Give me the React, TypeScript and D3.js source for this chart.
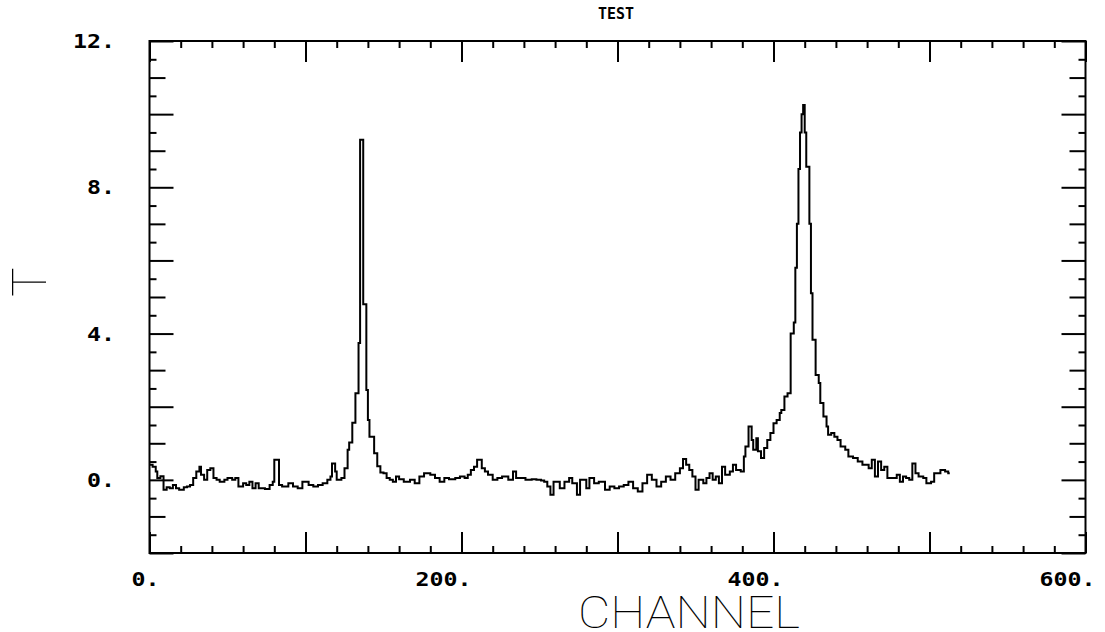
import React, { useRef, useEffect } from 'react';
import * as d3 from 'd3';

// Spectrum: channel number and the T value from that channel on
const channel = [
  0, 2, 4, 5, 7, 9, 11, 13, 15, 17, 19, 22, 24, 26, 28, 30, 32, 33, 35, 37,
  39, 41, 43, 45, 48, 50, 53, 55, 57, 60, 62, 64, 66, 68, 70, 74, 77, 79, 80, 83,
  85, 89, 92, 95, 98, 102, 105, 108, 111, 114, 116, 117, 119, 120, 123, 125, 127, 128, 130, 132,
  134, 135, 137, 139, 140, 141, 144, 146, 148, 150, 152, 154, 156, 158, 160, 163, 167, 170, 173, 176,
  180, 183, 186, 189, 192, 196, 199, 202, 204, 206, 208, 210, 213, 215, 217, 220, 223, 226, 230, 233,
  235, 238, 241, 245, 248, 251, 253, 255, 257, 259, 263, 266, 269, 271, 274, 276, 280, 282, 285, 288,
  292, 295, 298, 301, 304, 307, 310, 313, 316, 319, 322, 325, 328, 331, 334, 337, 340, 342, 344, 346,
  348, 350, 352, 355, 357, 359, 361, 363, 365, 367, 369, 372, 374, 376, 379, 381, 382, 384, 386, 387,
  389, 390, 392, 394, 396, 398, 400, 402, 404, 405, 407, 409, 411, 413, 414, 415, 416, 417, 418, 419,
  420, 421, 423, 424, 425, 427, 429, 430, 432, 434, 435, 437, 439, 441, 443, 446, 448, 451, 454, 457,
  461, 463, 465, 467, 469, 471, 473, 477, 479, 481, 483, 485, 487, 489, 491, 493, 496, 498, 501, 503,
  507, 510, 512, 513,
];

const counts = [
  0.41, 0.36, 0.23, 0.05, 0.1, -0.27, -0.2, -0.23, -0.14, -0.23, -0.27, -0.2, -0.18, -0.14, 0.05, 0.23, 0.36, 0.14, 0.0, 0.27,
  0.32, 0.05, 0.0, -0.05, 0.0, 0.05, 0.0, 0.05, -0.18, -0.09, -0.14, -0.05, -0.23, -0.09, -0.23, -0.25, -0.14, -0.05, 0.55, -0.14,
  -0.18, -0.09, -0.18, -0.23, -0.05, -0.14, -0.18, -0.14, -0.09, 0.0, 0.09, 0.45, 0.23, 0.0, 0.05, 0.32, 0.82, 1.02, 1.56, 2.37,
  3.74, 9.3, 4.8, 2.46, 1.64, 1.18, 0.73, 0.37, 0.2, 0.18, 0.05, 0.0, -0.05, 0.09, 0.02, -0.05, 0.0, -0.09, 0.09, 0.18,
  0.14, 0.05, -0.05, 0.05, 0.02, 0.05, 0.09, 0.05, 0.14, 0.27, 0.36, 0.55, 0.32, 0.23, 0.14, 0.0, 0.05, 0.09, 0.0, 0.23,
  0.05, 0.05, 0.0, 0.02, 0.0, -0.02, -0.05, -0.18, -0.41, -0.05, -0.23, -0.05, 0.05, -0.09, -0.41, 0.0, -0.23, 0.05, -0.09, -0.05,
  -0.27, -0.18, -0.23, -0.18, -0.14, -0.05, -0.23, -0.32, -0.09, 0.14, 0.0, -0.18, -0.05, 0.09, 0.0, 0.18, 0.32, 0.57, 0.41, 0.27,
  0.09, -0.27, 0.0, -0.09, 0.05, 0.18, 0.0, 0.09, -0.09, 0.36, 0.14, 0.23, 0.41, 0.27, 0.23, 0.64, 0.91, 1.46, 1.09, 0.82,
  1.14, 0.78, 0.6, 0.87, 1.09, 1.28, 1.55, 1.64, 1.83, 1.91, 2.28, 2.37, 4.0, 4.3, 5.8, 7.0, 8.5, 9.5, 10.0, 10.25,
  9.5, 8.56, 7.0, 5.1, 3.83, 2.87, 2.65, 2.1, 1.73, 1.46, 1.23, 1.28, 1.18, 1.09, 0.91, 0.82, 0.64, 0.6, 0.5, 0.41,
  0.32, 0.55, 0.09, 0.5, 0.27, 0.36, 0.05, 0.05, 0.14, -0.05, 0.09, 0.05, 0.0, 0.45, 0.18, 0.09, 0.05, -0.09, -0.05, 0.18,
  0.27, 0.23, 0.18, 0.18,
];

const xDomain = [0, 600];
const yDomain = [-2, 12];
const xLabelValues = [0, 200, 400, 600];
const yLabelValues = [0, 4, 8, 12];

const labelFont = '"DejaVu Sans Mono", "Liberation Mono", monospace';
const strokeFont = 'Roboto, Inter, Lato, "Noto Sans", sans-serif';

function App() {
  const svgRef = useRef<SVGSVGElement>(null);

  useEffect(() => {
    const width = 1105;
    const height = 632;
    const margin = { top: 41, right: 19.5, bottom: 79, left: 149.5 };

    const svg = d3.select(svgRef.current);
    svg.selectAll('*').remove();
    svg.attr('width', width).attr('height', height);

    const x = d3.scaleLinear().domain(xDomain).range([margin.left, width - margin.right]);
    const y = d3.scaleLinear().domain(yDomain).range([height - margin.bottom, margin.top]);

    const x0 = x.range()[0], x1 = x.range()[1];
    const yB = y.range()[0], yT = y.range()[1];

    // ticks: majors every 100, minors every 20 on x; 0.5 steps on y with 3 lengths
    const xMajor = d3.range(xDomain[0], xDomain[1] + 1, 100);
    const xMinor = d3.range(xDomain[0], xDomain[1] + 1, 20).filter(v => v % 100 !== 0);
    const yAll = d3.range(yDomain[0], yDomain[1] + 0.01, 0.5);
    const yHalf = yAll.filter(v => v % 1 !== 0);
    const yOdd = yAll.filter(v => v % 1 === 0 && Math.abs(v) % 2 === 1);
    const yEven = yAll.filter(v => v % 1 === 0 && Math.abs(v) % 2 === 0);

    const addAxis = (axis: any, tx: number, ty: number) => {
      const g = svg.append('g').attr('transform', `translate(${tx},${ty})`).call(axis);
      g.select('.domain').remove();
      g.selectAll('text').remove();
      g.selectAll('line').attr('stroke', '#000').attr('stroke-width', 2);
    };

    const xSets: [number[], number][] = [[xMinor, 7], [xMajor, 21]];
    xSets.forEach(([vals, len]) => {
      addAxis(d3.axisTop(x).tickValues(vals).tickSize(len).tickFormat(() => ''), 0, yB);
      addAxis(d3.axisBottom(x).tickValues(vals).tickSize(len).tickFormat(() => ''), 0, yT);
    });

    const ySets: [number[], number][] = [[yHalf, 7], [yOdd, 16], [yEven, 24]];
    ySets.forEach(([vals, len]) => {
      addAxis(d3.axisRight(y).tickValues(vals).tickSize(len).tickFormat(() => ''), x0, 0);
      addAxis(d3.axisLeft(y).tickValues(vals).tickSize(len).tickFormat(() => ''), x1, 0);
    });

    // frame
    svg.append('rect')
      .attr('x', x0)
      .attr('y', yT)
      .attr('width', x1 - x0)
      .attr('height', yB - yT)
      .attr('fill', 'none')
      .attr('stroke', '#000')
      .attr('stroke-width', 2);

    // spectrum as a step line
    const pts = channel.map((c, i) => [c, counts[i]] as [number, number]);
    const line = d3.line<[number, number]>()
      .x(d => x(d[0]))
      .y(d => y(d[1]))
      .curve(d3.curveStepAfter);

    svg.append('path')
      .datum(pts)
      .attr('fill', 'none')
      .attr('stroke', '#000')
      .attr('stroke-width', 2)
      .attr('stroke-linejoin', 'miter')
      .attr('d', line);

    // tick labels
    svg.selectAll('.xlab')
      .data(xLabelValues)
      .enter()
      .append('text')
      .attr('class', 'xlab')
      .attr('x', d => x(d) + 10)
      .attr('y', yB + 33)
      .attr('text-anchor', 'end')
      .attr('font-family', labelFont)
      .attr('font-weight', 'bold')
      .attr('font-size', 20)
      .attr('textLength', d => `${d}.`.length * 14)
      .attr('lengthAdjust', 'spacingAndGlyphs')
      .text(d => `${d}.`);

    svg.selectAll('.ylab')
      .data(yLabelValues)
      .enter()
      .append('text')
      .attr('class', 'ylab')
      .attr('x', 115)
      .attr('y', d => y(d) + 7)
      .attr('text-anchor', 'end')
      .attr('font-family', labelFont)
      .attr('font-weight', 'bold')
      .attr('font-size', 20)
      .attr('textLength', d => `${d}.`.length * 14)
      .attr('lengthAdjust', 'spacingAndGlyphs')
      .text(d => `${d}.`);

    // title
    svg.append('text')
      .attr('x', 616)
      .attr('y', 19)
      .attr('text-anchor', 'middle')
      .attr('font-family', labelFont)
      .attr('font-weight', 'bold')
      .attr('font-size', 16)
      .attr('textLength', 36)
      .attr('lengthAdjust', 'spacingAndGlyphs')
      .text('TEST');

    // axis titles in a thin stroke-like face
    svg.append('text')
      .attr('x', 689)
      .attr('y', 628)
      .attr('text-anchor', 'middle')
      .attr('font-family', strokeFont)
      .attr('font-weight', 100)
      .attr('font-size', 44)
      .attr('textLength', 222)
      .attr('lengthAdjust', 'spacingAndGlyphs')
      .text('CHANNEL');

    svg.append('text')
      .attr('transform', 'translate(46,282) rotate(-90)')
      .attr('text-anchor', 'middle')
      .attr('font-family', strokeFont)
      .attr('font-weight', 100)
      .attr('font-size', 49)
      .text('T');
  }, []);

  return (
    <svg
      ref={svgRef}
      style={{ position: 'absolute', left: 0, top: 0, background: '#fff' }}
    ></svg>
  );
}

export default App;
